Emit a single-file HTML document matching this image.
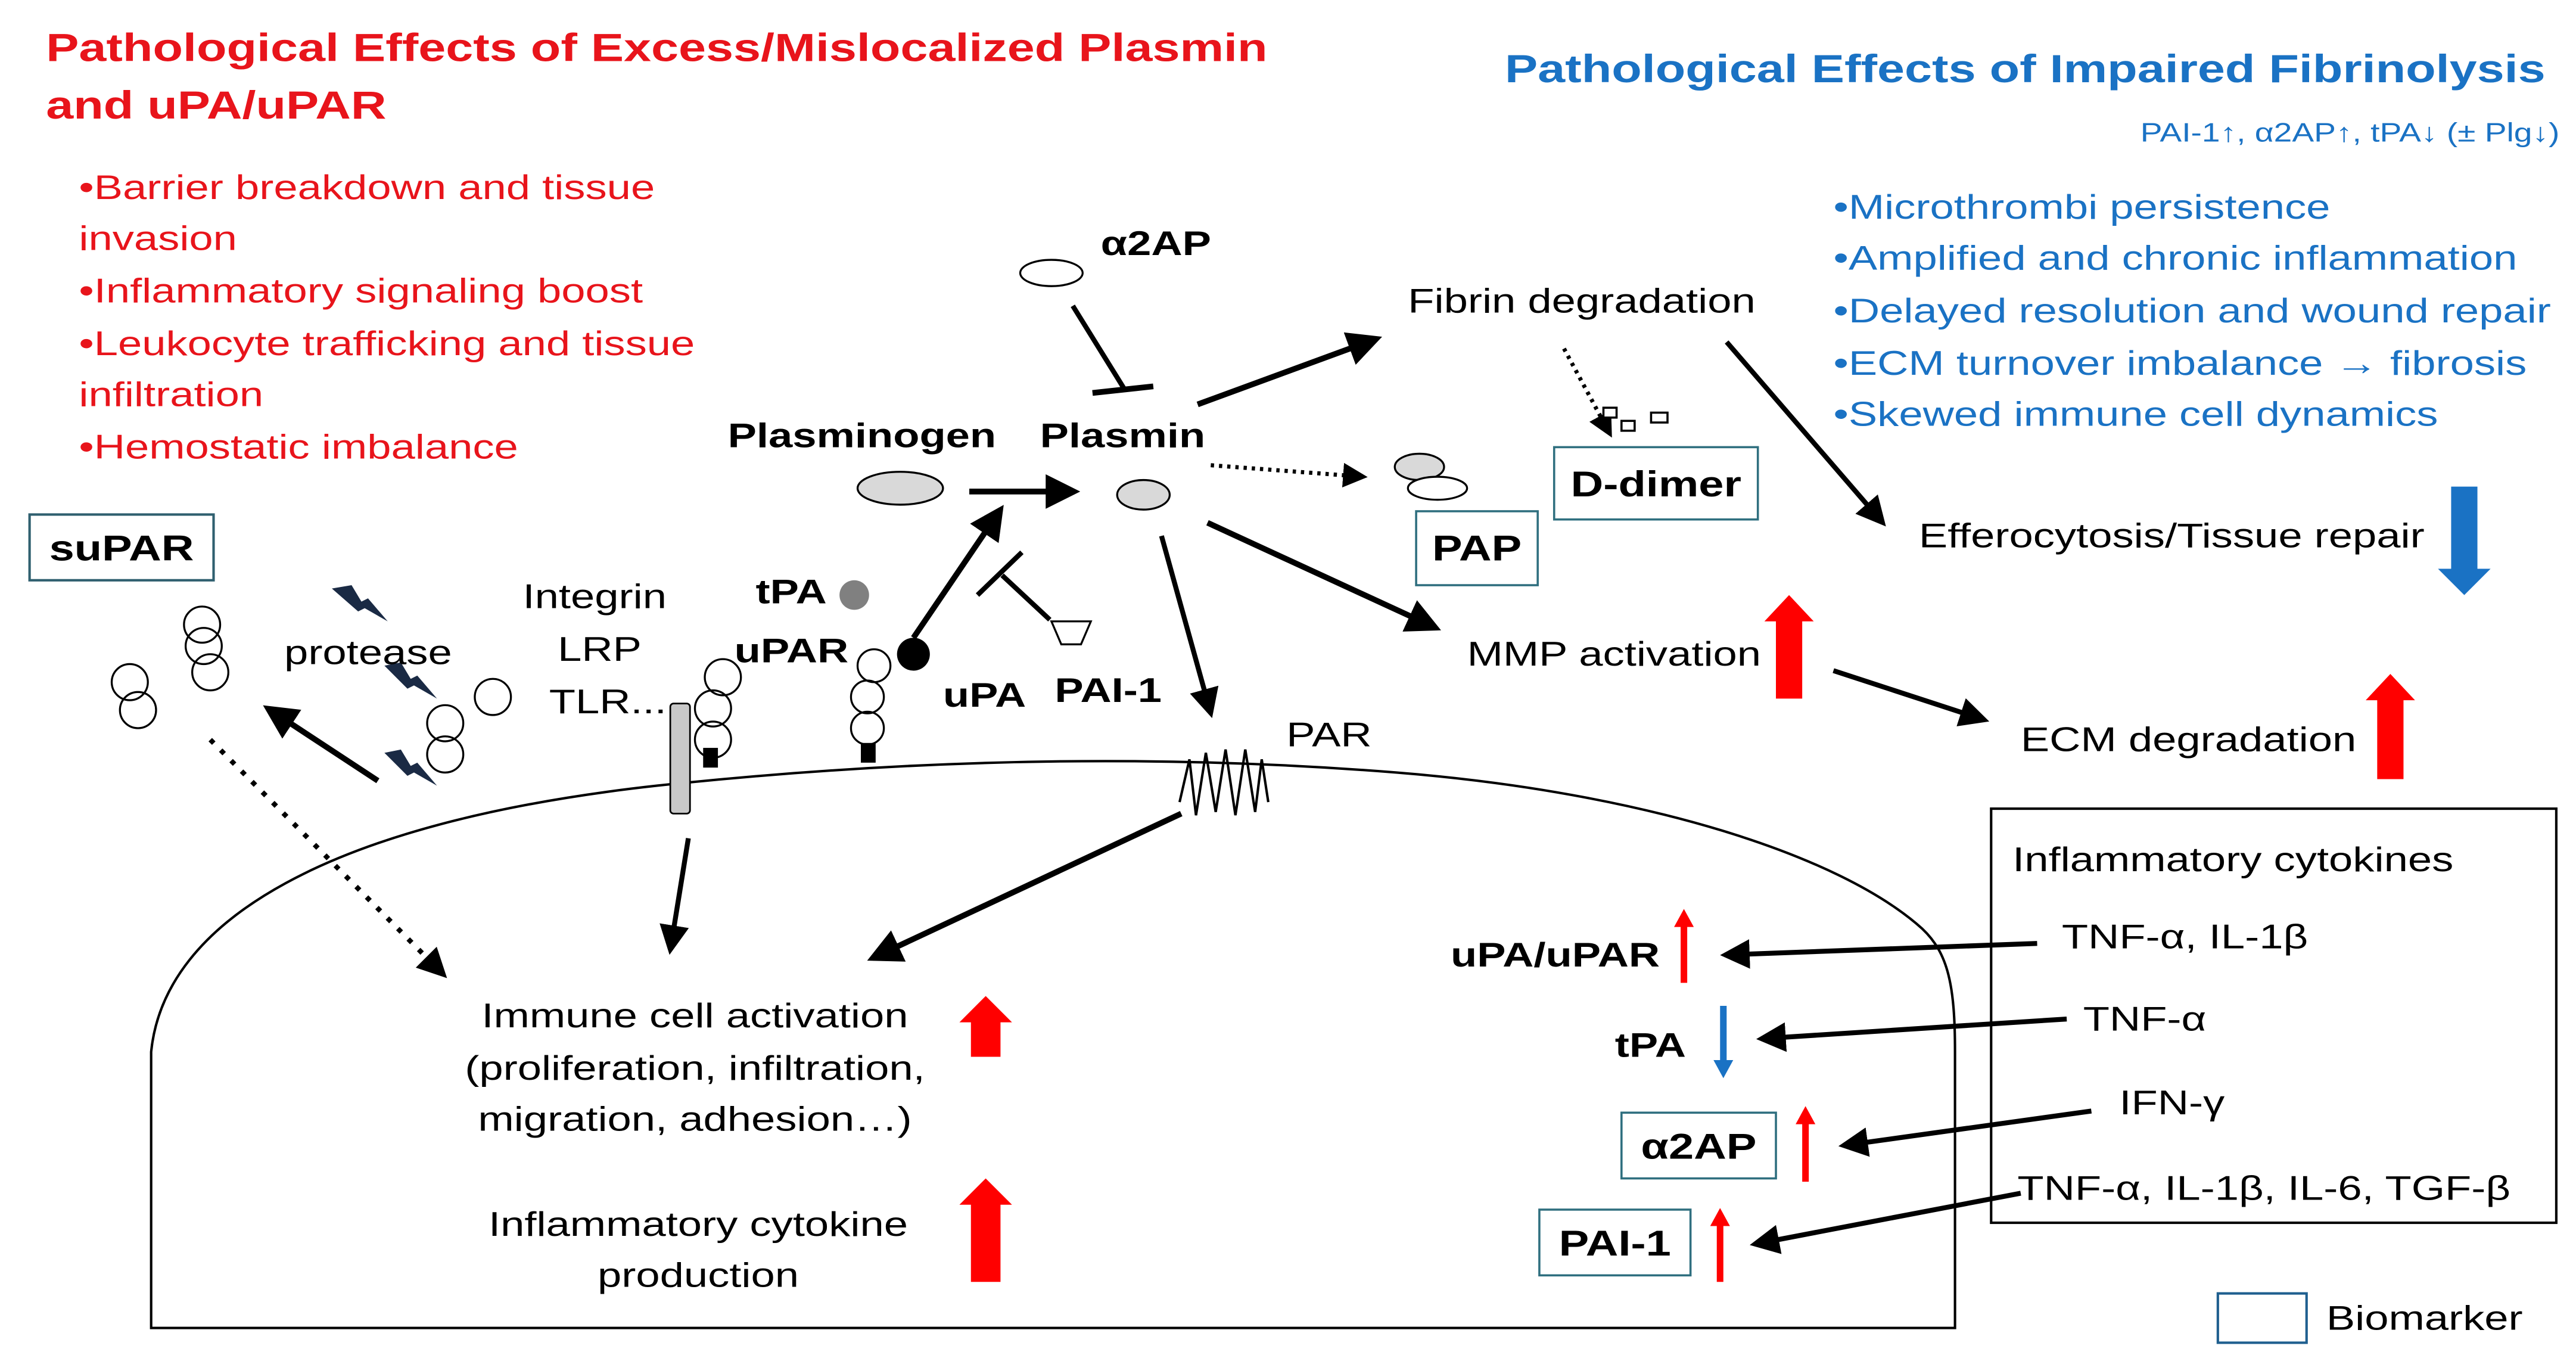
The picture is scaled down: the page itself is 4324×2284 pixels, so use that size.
<!DOCTYPE html>
<html><head><meta charset="utf-8">
<style>
html,body{margin:0;padding:0;background:#fff;}
svg{display:block;}
text{font-family:"Liberation Sans",Arial,sans-serif;transform-box:fill-box;transform-origin:0% 50%;transform:scaleX(1.25);}
text.m{transform-origin:50% 50%;}
text.e{transform-origin:100% 50%;}
</style></head>
<body>
<svg width="4324" height="2284" viewBox="0 0 1568 828" xmlns="http://www.w3.org/2000/svg">
<defs>
<marker id="ah2" markerWidth="6" markerHeight="6" refX="5" refY="3" orient="auto" markerUnits="strokeWidth">
<path d="M0,0 L6,3 L0,6 Z" fill="#000"/></marker>
</defs>
<rect width="1568" height="828" fill="#fff"/>

<!-- Titles -->
<g fill="#e8141b" font-size="24" font-weight="bold">
<text x="28" y="37">Pathological Effects of Excess/Mislocalized Plasmin</text>
<text x="28" y="72">and uPA/uPAR</text>
</g>
<g fill="#e8141b" font-size="21">
<text x="48" y="121">•Barrier breakdown and tissue</text>
<text x="48" y="152">invasion</text>
<text x="48" y="184">•Inflammatory signaling boost</text>
<text x="48" y="216">•Leukocyte trafficking and tissue</text>
<text x="48" y="247">infiltration</text>
<text x="48" y="279">•Hemostatic imbalance</text>
</g>
<text x="916" y="50" fill="#1a72c4" font-size="24" font-weight="bold">Pathological Effects of Impaired Fibrinolysis</text>
<text class="e" x="1558" y="86" fill="#1a72c4" font-size="16" text-anchor="end">PAI-1↑, α2AP↑, tPA↓ (± Plg↓)</text>
<g fill="#1a72c4" font-size="21">
<text x="1116" y="133">•Microthrombi persistence</text>
<text x="1116" y="164">•Amplified and chronic inflammation</text>
<text x="1116" y="196">•Delayed resolution and wound repair</text>
<text x="1116" y="228">•ECM turnover imbalance → fibrosis</text>
<text x="1116" y="259">•Skewed immune cell dynamics</text>
</g>

<!-- Cell -->
<path d="M92,808 L92,640 C100,560 200,500 400,478 C550,462 700,458 850,470 C1000,482 1120,520 1170,565 C1186,580 1190,600 1190,640 L1190,808 Z" fill="none" stroke="#000" stroke-width="1.5"/>

<!-- suPAR -->
<rect x="18" y="313" width="112" height="40" fill="#fff" stroke="#2f5f6f" stroke-width="1.5"/>
<text class="m" x="74" y="341" text-anchor="middle" font-size="22" font-weight="bold">suPAR</text>

<g fill="none" stroke="#000" stroke-width="1.2">
<ellipse cx="123" cy="380" rx="11" ry="11"/><ellipse cx="124" cy="393" rx="11" ry="11"/><ellipse cx="128" cy="409" rx="11" ry="11"/>
<ellipse cx="79" cy="415" rx="11" ry="11"/><ellipse cx="84" cy="432" rx="11" ry="11"/>
<ellipse cx="300" cy="424" rx="11" ry="11"/>
<ellipse cx="271" cy="440" rx="11" ry="11"/><ellipse cx="271" cy="459" rx="11" ry="11"/>
<ellipse cx="440" cy="412" rx="11" ry="11"/><ellipse cx="434" cy="431" rx="11" ry="11"/><ellipse cx="434" cy="450" rx="11" ry="11"/>
<ellipse cx="532" cy="405" rx="10" ry="10"/><ellipse cx="528" cy="424" rx="10" ry="10"/><ellipse cx="528" cy="443" rx="10" ry="10"/>
</g>
<rect x="428" y="455" width="9" height="12" fill="#000"/>
<rect x="524" y="452" width="9" height="12" fill="#000"/>
<g fill="#1a2a44">
<path d="M202,358 L214,356 L220,366 L224,364 L236,378 L222,370 L218,372 Z"/>
<path d="M234,405 L244,403 L250,413 L254,411 L266,425 L252,417 L248,419 Z"/>
<path d="M234,458 L244,456 L250,466 L254,464 L266,478 L252,470 L248,472 Z"/>
</g>
<text x="173" y="404" font-size="21">protease</text>
<line x1="230" y1="475" x2="163" y2="431" stroke="#000" stroke-width="3.5" marker-end="url(#ah2)"/>
<line x1="128" y1="450" x2="270" y2="593" stroke="#000" stroke-width="3" stroke-dasharray="3,6" marker-end="url(#ah2)"/>

<!-- Integrin -->
<rect x="408" y="428" width="12" height="67" rx="2" fill="#c8c8c8" stroke="#000" stroke-width="1"/>
<g font-size="21" text-anchor="middle">
<text class="m" x="362" y="370">Integrin</text><text class="m" x="365" y="402">LRP</text><text class="m" x="370" y="434">TLR...</text>
</g>
<line x1="419" y1="510" x2="408" y2="578" stroke="#000" stroke-width="3" marker-end="url(#ah2)"/>

<g font-size="21" font-weight="bold">
<text x="460" y="367">tPA</text><text x="447" y="403">uPAR</text>
<text x="574" y="430">uPA</text><text x="642" y="427">PAI-1</text>
<text x="443" y="272">Plasminogen</text><text x="633" y="272">Plasmin</text>
<text x="670" y="155">α2AP</text>
</g>
<circle cx="520" cy="362" r="9" fill="#808080"/>
<circle cx="556" cy="398" r="10" fill="#000"/>
<path d="M640,378 L664,378 L658,392 L646,392 Z" fill="#fff" stroke="#000" stroke-width="1.2"/>

<ellipse cx="640" cy="166" rx="19" ry="8" fill="#fff" stroke="#000" stroke-width="1.2"/>
<line x1="653" y1="186" x2="684" y2="236" stroke="#000" stroke-width="3"/>
<line x1="665" y1="239" x2="702" y2="235" stroke="#000" stroke-width="3.5"/>

<ellipse cx="548" cy="297" rx="26" ry="10" fill="#d9d9d9" stroke="#000" stroke-width="1.2"/>
<line x1="590" y1="299" x2="654" y2="299" stroke="#000" stroke-width="3.5" marker-end="url(#ah2)"/>
<ellipse cx="696" cy="301" rx="16" ry="9" fill="#d9d9d9" stroke="#000" stroke-width="1.2"/>

<line x1="556" y1="388" x2="609" y2="310" stroke="#000" stroke-width="3.5" marker-end="url(#ah2)"/>
<line x1="639" y1="377" x2="610" y2="350" stroke="#000" stroke-width="3"/>
<line x1="595" y1="362" x2="622" y2="336" stroke="#000" stroke-width="3"/>

<line x1="729" y1="246" x2="838" y2="206" stroke="#000" stroke-width="3.5" marker-end="url(#ah2)"/>
<text x="857" y="190" font-size="21">Fibrin degradation</text>
<line x1="737" y1="283" x2="830" y2="290" stroke="#000" stroke-width="2.5" stroke-dasharray="2,3" marker-end="url(#ah2)"/>
<line x1="952" y1="212" x2="980" y2="264" stroke="#000" stroke-width="2.5" stroke-dasharray="2,3" marker-end="url(#ah2)"/>
<g fill="#fff" stroke="#000" stroke-width="1.3">
<rect x="976" y="248" width="8" height="6"/><rect x="987" y="256" width="8" height="6"/><rect x="1005" y="251" width="10" height="6"/>
</g>
<rect x="946" y="272" width="124" height="44" fill="#fff" stroke="#2f6f7f" stroke-width="1.3"/>
<text class="m" x="1008" y="302" font-size="22" font-weight="bold" text-anchor="middle">D-dimer</text>
<ellipse cx="864" cy="284" rx="15" ry="8" fill="#d9d9d9" stroke="#000" stroke-width="1.2"/>
<ellipse cx="875" cy="297" rx="18" ry="7" fill="#fff" stroke="#000" stroke-width="1.2"/>
<rect x="862" y="311" width="74" height="45" fill="#fff" stroke="#2f6f7f" stroke-width="1.3"/>
<text class="m" x="899" y="341" font-size="22" font-weight="bold" text-anchor="middle">PAP</text>

<line x1="735" y1="318" x2="874" y2="382" stroke="#000" stroke-width="3.5" marker-end="url(#ah2)"/>
<text x="893" y="405" font-size="21">MMP activation</text>
<line x1="707" y1="326" x2="737" y2="434" stroke="#000" stroke-width="3" marker-end="url(#ah2)"/>
<path d="M718,488 L724,462 L728,496 L734,458 L740,494 L746,456 L752,496 L758,456 L764,494 L768,462 L772,488" fill="none" stroke="#000" stroke-width="1.5"/>
<text x="783" y="454" font-size="21">PAR</text>
<line x1="719" y1="495" x2="531" y2="583" stroke="#000" stroke-width="3.5" marker-end="url(#ah2)"/>

<g font-size="21" text-anchor="middle">
<text class="m" x="423" y="625">Immune cell activation</text>
<text class="m" x="423" y="657">(proliferation, infiltration,</text>
<text class="m" x="423" y="688">migration, adhesion…)</text>
<text class="m" x="425" y="752">Inflammatory cytokine</text>
<text class="m" x="425" y="783">production</text>
</g>
<g fill="#ff0000">
<path d="M600,606 L616,622 L609,622 L609,643 L591,643 L591,622 L584,622 Z"/>
<path d="M600,717 L616,733 L609,733 L609,780 L591,780 L591,733 L584,733 Z"/>
<path d="M1089,362 L1104,378 L1097,378 L1097,425 L1081,425 L1081,378 L1074,378 Z"/>
<path d="M1455,410 L1470,426 L1463,426 L1463,474 L1447,474 L1447,426 L1440,426 Z"/>
</g>
<path d="M1500,362 L1484,346 L1492,346 L1492,296 L1508,296 L1508,346 L1516,346 Z" fill="#1a72c4"/>

<text x="1168" y="333" font-size="21">Efferocytosis/Tissue repair</text>
<text x="1230" y="457" font-size="21">ECM degradation</text>
<line x1="1051" y1="208" x2="1146" y2="318" stroke="#000" stroke-width="3" marker-end="url(#ah2)"/>
<line x1="1116" y1="408" x2="1208" y2="438" stroke="#000" stroke-width="3" marker-end="url(#ah2)"/>

<rect x="1212" y="492" width="344" height="252" fill="none" stroke="#000" stroke-width="1.5"/>
<g font-size="21">
<text x="1225" y="530">Inflammatory cytokines</text>
<text x="1255" y="577">TNF-α, IL-1β</text>
<text x="1268" y="627">TNF-α</text>
<text x="1290" y="678">IFN-γ</text>
<text x="1228" y="730">TNF-α, IL-1β, IL-6, TGF-β</text>
</g>
<g font-size="21" font-weight="bold">
<text x="883" y="588">uPA/uPAR</text>
<text x="983" y="643">tPA</text>
</g>
<rect x="987" y="677" width="94" height="40" fill="#fff" stroke="#2f6f7f" stroke-width="1.3"/>
<text class="m" x="1034" y="705" font-size="22" font-weight="bold" text-anchor="middle">α2AP</text>
<rect x="937" y="736" width="92" height="40" fill="#fff" stroke="#2f6f7f" stroke-width="1.3"/>
<text class="m" x="983" y="764" font-size="22" font-weight="bold" text-anchor="middle">PAI-1</text>
<g fill="#ff0000">
<path d="M1025,553 L1031,564 L1027,564 L1027,598 L1023,598 L1023,564 L1019,564 Z"/>
<path d="M1099,673 L1105,684 L1101,684 L1101,719 L1097,719 L1097,684 L1093,684 Z"/>
<path d="M1047,735 L1053,746 L1049,746 L1049,780 L1045,780 L1045,746 L1041,746 Z"/>
</g>
<path d="M1049,656 L1043,645 L1047,645 L1047,612 L1051,612 L1051,645 L1055,645 Z" fill="#1a72c4"/>
<g stroke="#000" stroke-width="3">
<line x1="1240" y1="574" x2="1050" y2="581" marker-end="url(#ah2)"/>
<line x1="1258" y1="620" x2="1072" y2="632" marker-end="url(#ah2)"/>
<line x1="1273" y1="676" x2="1122" y2="697" marker-end="url(#ah2)"/>
<line x1="1230" y1="726" x2="1068" y2="757" marker-end="url(#ah2)"/>
</g>

<rect x="1350" y="787" width="54" height="30" fill="#fff" stroke="#1f5f8f" stroke-width="1.5"/>
<text x="1416" y="809" font-size="21">Biomarker</text>
</svg>
</body></html>
